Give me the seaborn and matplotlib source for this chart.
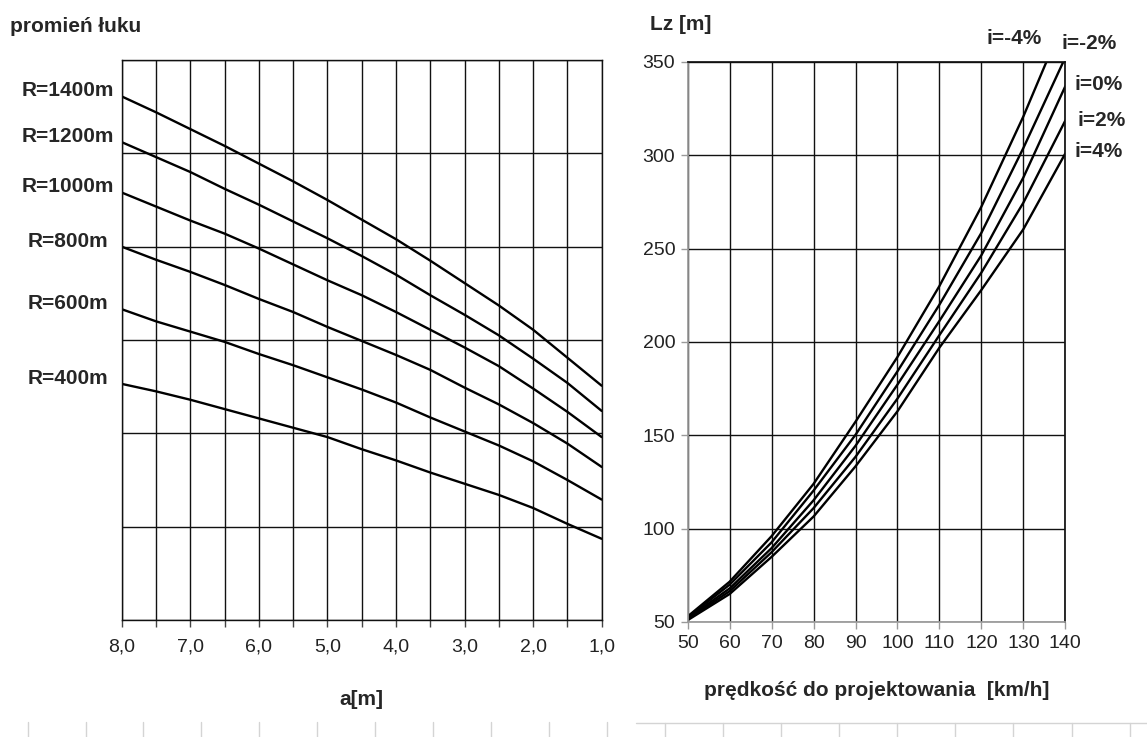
import numpy as np
import pandas as pd
import seaborn as sns
from matplotlib import pyplot as plt
from matplotlib import transforms
from matplotlib.lines import Line2D

# left chart: promień łuku vs a[m]  (y in grid units, axis has no labels)
a_vals = [8.0, 7.5, 7.0, 6.5, 6.0, 5.5, 5.0, 4.5, 4.0, 3.5, 3.0, 2.5, 2.0, 1.5, 1.0]
r_names = ["R=1400m", "R=1200m", "R=1000m", "R=800m", "R=600m", "R=400m"]
r1400 = [5.61, 5.44, 5.26, 5.08, 4.89, 4.70, 4.50, 4.29, 4.08, 3.85, 3.61, 3.37, 3.11, 2.81, 2.51]
r1200 = [5.12, 4.96, 4.80, 4.62, 4.45, 4.27, 4.09, 3.90, 3.70, 3.48, 3.27, 3.05, 2.80, 2.54, 2.24]
r1000 = [4.58, 4.43, 4.28, 4.14, 3.98, 3.81, 3.64, 3.48, 3.30, 3.11, 2.92, 2.72, 2.48, 2.23, 1.96]
r800 = [4.00, 3.86, 3.73, 3.59, 3.44, 3.30, 3.14, 2.99, 2.84, 2.68, 2.49, 2.31, 2.11, 1.89, 1.64]
r600 = [3.33, 3.20, 3.09, 2.98, 2.85, 2.73, 2.60, 2.47, 2.33, 2.17, 2.02, 1.87, 1.70, 1.50, 1.29]
r400 = [2.53, 2.45, 2.36, 2.26, 2.16, 2.06, 1.96, 1.83, 1.71, 1.58, 1.46, 1.34, 1.20, 1.03, 0.87]
left_xticks = [8.0, 7.0, 6.0, 5.0, 4.0, 3.0, 2.0, 1.0]
left_xticklabels = ["8,0", "7,0", "6,0", "5,0", "4,0", "3,0", "2,0", "1,0"]

# right chart: Lz [m] vs prędkość
v_vals = [50, 60, 70, 80, 90, 100, 110, 120, 130, 140]
i_names = ["i=-4%", "i=-2%", "i=0%", "i=2%", "i=4%"]
lz_m4 = [53, 71.6, 96.0, 124.0, 157.3, 192.0, 230.0, 272.5, 320.8, 374.0]
lz_m2 = [52.5, 70.0, 92.7, 120.4, 150.3, 184.3, 220.0, 258.5, 303.9, 352.4]
lz_0 = [52, 68.0, 89.6, 115.2, 144.4, 177.2, 211.3, 246.5, 288.1, 337.0]
lz_p2 = [51.5, 66.5, 87.4, 111.0, 138.5, 169.7, 203.7, 237.2, 274.6, 318.6]
lz_p4 = [51, 65.0, 84.9, 106.5, 133.4, 162.9, 197.0, 227.9, 260.4, 301.0]
right_yticks = [50, 100, 150, 200, 250, 300, 350]
right_xticks = [50, 60, 70, 80, 90, 100, 110, 120, 130, 140]

left_df = pd.DataFrame({"a": a_vals * 6,
                        "y": r1400 + r1200 + r1000 + r800 + r600 + r400,
                        "R": [n for n in r_names for _ in a_vals]})
right_df = pd.DataFrame({"v": v_vals * 5,
                         "Lz": lz_m4 + lz_m2 + lz_0 + lz_p2 + lz_p4,
                         "i": [n for n in i_names for _ in v_vals]})

sns.set_theme(style="white")
plt.rcParams["font.family"] = ["Liberation Sans", "DejaVu Sans"]

W, H = 1147, 737
fig = plt.figure(figsize=(W / 100, H / 100), dpi=100)
ax1 = fig.add_axes([121.7 / W, (H - 620) / H, 480 / W, 560 / H])
ax2 = fig.add_axes([687.7 / W, (H - 622) / H, 377.6 / W, 560 / H])

black = "#000000"

# ---- left
sns.lineplot(data=left_df, x="a", y="y", hue="R", palette=[black] * 6,
             linewidth=1.7, legend=False, ax=ax1, sort=False)
ax1.set_xlim(8, 1)
ax1.set_ylim(0, 6)
ax1.set_xticks(np.arange(1.0, 8.01, 0.5), minor=True)
ax1.set_xticks(left_xticks)
ax1.set_xticklabels(left_xticklabels, fontsize=14, color="#222")
ax1.set_yticks(range(0, 7))
ax1.set_yticklabels([])
ax1.grid(True, which="both", axis="x", color="#111", lw=1.0)
ax1.grid(True, which="major", axis="y", color="#111", lw=1.0)
ax1.tick_params(axis="x", which="both", bottom=True, length=5, width=1, color="#444", pad=8)
ax1.tick_params(axis="y", left=False)
for s in ax1.spines.values():
    s.set_color("#111")
    s.set_linewidth(1.0)
ax1.set_xlabel("a[m]", fontsize=15, fontweight="bold", labelpad=25)
ax1.set_ylabel("")

lab_tr = transforms.blended_transform_factory(ax1.transAxes, ax1.transData)
for name, ys in zip(r_names, [r1400, r1200, r1000, r800, r600, r400]):
    ax1.text(-0.112, ys[0] + 0.06, name, transform=lab_tr, ha="center", va="center",
             fontsize=15, fontweight="bold", clip_on=False)
fig.text(10 / W, 1 - 27 / H, "promień łuku", fontsize=15, fontweight="bold",
         ha="left", va="center")

# ---- right
sns.lineplot(data=right_df, x="v", y="Lz", hue="i", palette=[black] * 5,
             linewidth=1.7, legend=False, ax=ax2)
ax2.set_xlim(50, 140)
ax2.set_ylim(50, 350)
ax2.set_xticks(right_xticks)
ax2.set_yticks(right_yticks)
ax2.tick_params(axis="both", labelsize=14, labelcolor="#222", length=5, width=1,
                color="#999", bottom=True, left=True, pad=4)
ax2.grid(True, color="#111", lw=1.0)
ax2.spines["left"].set_color("#999")
ax2.spines["bottom"].set_color("#999")
ax2.spines["top"].set_color("#111")
ax2.spines["right"].set_color("#111")
ax2.set_xlabel("prędkość do projektowania  [km/h]", fontsize=15, fontweight="bold", labelpad=21)
ax2.set_ylabel("")
fig.text(650 / W, 1 - 25 / H, "Lz [m]", fontsize=15, fontweight="bold", ha="left", va="center")

i_pos = [(127.8, 362.4, "center"), (145.6, 360.0, "center"),
         (142.1, 338.2, "left"), (143.0, 318.7, "left"), (142.3, 301.8, "left")]
for name, (px, py, ha) in zip(i_names, i_pos):
    ax2.text(px, py, name, fontsize=15, fontweight="bold", ha=ha, va="center", clip_on=False)

# faint ruler marks along the bottom edge of the screenshot
grey = "#d4d4d4"
for x in np.arange(27.7, 610, 57.9):
    fig.add_artist(Line2D([x / W, x / W], [0, 1 - 722 / H], color=grey, lw=1))
fig.add_artist(Line2D([636 / W, 1], [1 - 722.7 / H, 1 - 722.7 / H], color=grey, lw=1))
for x in np.arange(664.8, W, 58.1):
    fig.add_artist(Line2D([x / W, x / W], [0, 1 - 722.7 / H], color=grey, lw=1))

fig.savefig("out.png", dpi=100, facecolor="white")
